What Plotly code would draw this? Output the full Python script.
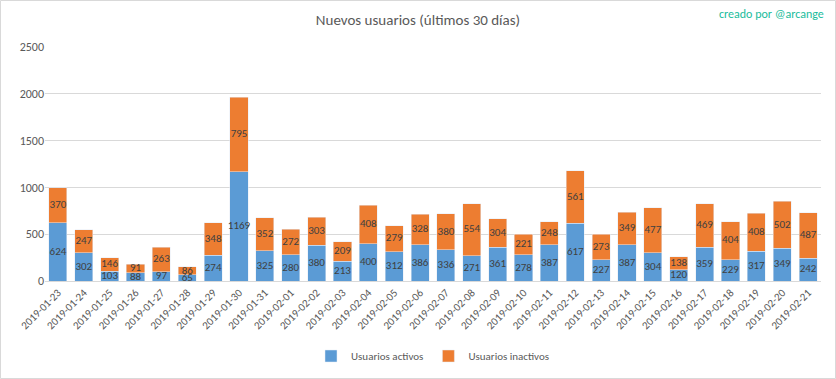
import plotly.graph_objects as go

dates = ["2019-01-23","2019-01-24","2019-01-25","2019-01-26","2019-01-27","2019-01-28","2019-01-29",
         "2019-01-30","2019-01-31","2019-02-01","2019-02-02","2019-02-03","2019-02-04","2019-02-05",
         "2019-02-06","2019-02-07","2019-02-08","2019-02-09","2019-02-10","2019-02-11","2019-02-12",
         "2019-02-13","2019-02-14","2019-02-15","2019-02-16","2019-02-17","2019-02-18","2019-02-19",
         "2019-02-20","2019-02-21"]
activos = [624,302,103,88,97,65,274,1169,325,280,380,213,400,312,386,336,271,361,278,387,617,227,387,304,120,359,229,317,349,242]
inactivos = [370,247,146,91,263,86,348,795,352,272,303,209,408,279,328,380,554,304,221,248,561,273,349,477,138,469,404,408,502,487]
y_ticks = [0, 500, 1000, 1500, 2000, 2500]

FONT = "Carlito, 'Liberation Sans Narrow', 'Noto Sans', sans-serif"
BLUE = "#5B9BD5"
ORANGE = "#ED7D31"
TXT = "#404040"

fig = go.Figure()
fig.add_trace(go.Bar(x=dates, y=activos, name="Usuarios activos", marker_color=BLUE))
fig.add_trace(go.Bar(x=dates, y=inactivos, name="Usuarios inactivos", marker_color=ORANGE))

mid_a = [a / 2 for a in activos]
mid_i = [a + i / 2 for a, i in zip(activos, inactivos)]
fig.add_trace(go.Scatter(x=dates, y=mid_a, mode="text", text=[str(v) for v in activos],
                         textfont=dict(color=TXT, size=11, family=FONT), showlegend=False,
                         hoverinfo="skip", cliponaxis=False))
fig.add_trace(go.Scatter(x=dates, y=mid_i, mode="text", text=[str(v) for v in inactivos],
                         textfont=dict(color=TXT, size=11, family=FONT), showlegend=False,
                         hoverinfo="skip", cliponaxis=False))

fig.update_layout(
    width=836, height=379,
    barmode="stack", bargap=0.3,
    paper_bgcolor="white", plot_bgcolor="white",
    margin=dict(l=45, r=15, t=47, b=98, autoexpand=False),
    font=dict(family=FONT, color="#595959", size=12),
    title=dict(text="Nuevos usuarios (últimos 30 días)", x=0.5, xanchor="center",
               y=1 - 20 / 379, yanchor="middle", font=dict(size=15, color="#595959", family=FONT)),
    legend=dict(orientation="h", x=0.5, xanchor="center", y=-75 / 234, yanchor="middle",
                font=dict(size=11, color="#595959", family=FONT),
                traceorder="normal", itemwidth=30),
    xaxis=dict(type="category", range=[-0.5, len(dates) - 0.5], tickangle=-45, showgrid=False,
               showline=True, linecolor="#D9D9D9",
               ticks="", tickfont=dict(size=11, color="#595959"), automargin=False),
    yaxis=dict(range=[0, 2500], tickvals=y_ticks, ticktext=[str(v) for v in y_ticks],
               showgrid=True, gridcolor="#D9D9D9", zeroline=False, showline=False,
               tickfont=dict(size=12, color="#595959"), ticks="", automargin=False),
    shapes=[dict(type="rect", xref="paper", yref="paper", x0=-44.5/776, x1=1 + 14.5/776,
                 y0=-97.5/234, y1=1 + 46.5/234, line=dict(color="#D9D9D9", width=1))],
    annotations=[dict(text="creado por @arcange", xref="paper", yref="paper",
                      x=1 + 5/776, xanchor="right", y=1 + 33/234, yanchor="middle",
                      showarrow=False, font=dict(size=12, color="#1ABC9C", family=FONT))],
)

fig.write_html("out.html", config={"displayModeBar": False},
               post_script="document.body.style.margin='0';")
